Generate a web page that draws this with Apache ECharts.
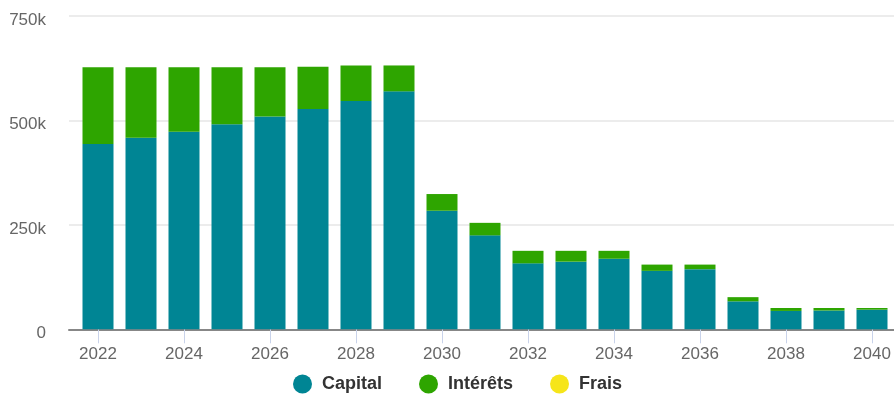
<!DOCTYPE html>
<html>
<head>
<meta charset="utf-8">
<title>Échéancier</title>
<script src="https://cdn.jsdelivr.net/npm/echarts@6/dist/echarts.min.js"></script>
<style>
  html, body { margin: 0; padding: 0; background: #ffffff; }
  #chart { width: 894px; height: 394px; }
</style>
</head>
<body>
<div id="chart"></div>
<script>
// Yearly repayment breakdown (amounts in euros)
const years = ['2022','2023','2024','2025','2026','2027','2028','2029','2030','2031',
               '2032','2033','2034','2035','2036','2037','2038','2039','2040'];
const capital = [444000, 459000, 473000, 491000, 510000, 528000, 547000, 570000, 284000, 225000,
                 158000, 162000, 169000, 140000, 144000, 67000, 44000, 45000, 47000];
const interets = [184000, 169000, 155000, 137000, 118000, 101000, 85000, 62000, 40000, 30000,
                  30000, 26000, 19000, 15000, 11000, 10000, 7000, 6000, 4000];
const frais = [0, 0, 0, 0, 0, 0, 0, 0, 0, 0, 0, 0, 0, 0, 0, 0, 0, 0, 0];
const yTicks = [0, 250000, 500000, 750000];

const colors = { capital: '#008594', interets: '#2ea500', frais: '#f6e51a' };
const font = '"Liberation Sans", Arial, Helvetica, sans-serif';

const chart = echarts.init(document.getElementById('chart'), null, { renderer: 'canvas' });

const yMax = yTicks[yTicks.length - 1];
const yStep = yTicks[1] - yTicks[0];

chart.setOption({
  animation: false,
  backgroundColor: '#ffffff',
  textStyle: { fontFamily: font },
  grid: [
    // frame: value labels, grid lines and baseline
    { left: 69, right: 0, top: 16.2, bottom: 64.7 },
    // bars
    { left: 76.5, right: 0.5, top: 16.2, bottom: 64.7 }
  ],
  xAxis: [
    {
      gridIndex: 0, type: 'category', data: years,
      axisLine: { show: true, lineStyle: { color: '#878787', width: 2 } },
      axisTick: { show: false }, axisLabel: { show: false }, splitLine: { show: false }
    },
    {
      gridIndex: 1, type: 'category', data: years, boundaryGap: true,
      axisLine: { show: false },
      axisTick: { show: true, interval: 1, alignWithLabel: true, length: 14,
                  lineStyle: { color: '#c9d3ea', width: 1 } },
      axisLabel: { interval: 1, color: '#666666', fontSize: 17, margin: 17, fontFamily: font },
      splitLine: { show: false }
    }
  ],
  yAxis: [
    {
      gridIndex: 0, type: 'value', min: 0, max: yMax, interval: yStep,
      axisLine: { show: false }, axisTick: { show: false },
      axisLabel: {
        color: '#666666', fontSize: 17, margin: 23, fontFamily: font,
        verticalAlign: 'top', lineHeight: 8,
        formatter: v => (v === 0 ? '0' : (v / 1000) + 'k')
      },
      splitLine: { show: true, lineStyle: { color: '#ececec', width: 2 } }
    },
    {
      gridIndex: 1, type: 'value', min: 0, max: yMax, interval: yStep,
      show: false, splitLine: { show: false }
    }
  ],
  legend: {
    left: 288, top: 369.5,
    icon: 'circle', itemWidth: 19, itemHeight: 19, itemGap: 37,
    textStyle: { color: '#333333', fontSize: 18, fontWeight: 'bold', fontFamily: font,
                 padding: [0, 0, 0, 5] },
    data: ['Capital', 'Intérêts', 'Frais']
  },
  series: [
    {
      name: 'Capital', type: 'bar', stack: 'total', xAxisIndex: 1, yAxisIndex: 1,
      barWidth: 31, data: capital,
      itemStyle: { color: colors.capital }
    },
    {
      name: 'Intérêts', type: 'bar', stack: 'total', xAxisIndex: 1, yAxisIndex: 1,
      barWidth: 31, data: interets,
      itemStyle: { color: colors.interets }
    },
    {
      name: 'Frais', type: 'bar', stack: 'total', xAxisIndex: 1, yAxisIndex: 1,
      barWidth: 31, data: frais,
      itemStyle: { color: colors.frais }
    }
  ]
});
</script>
</body>
</html>
